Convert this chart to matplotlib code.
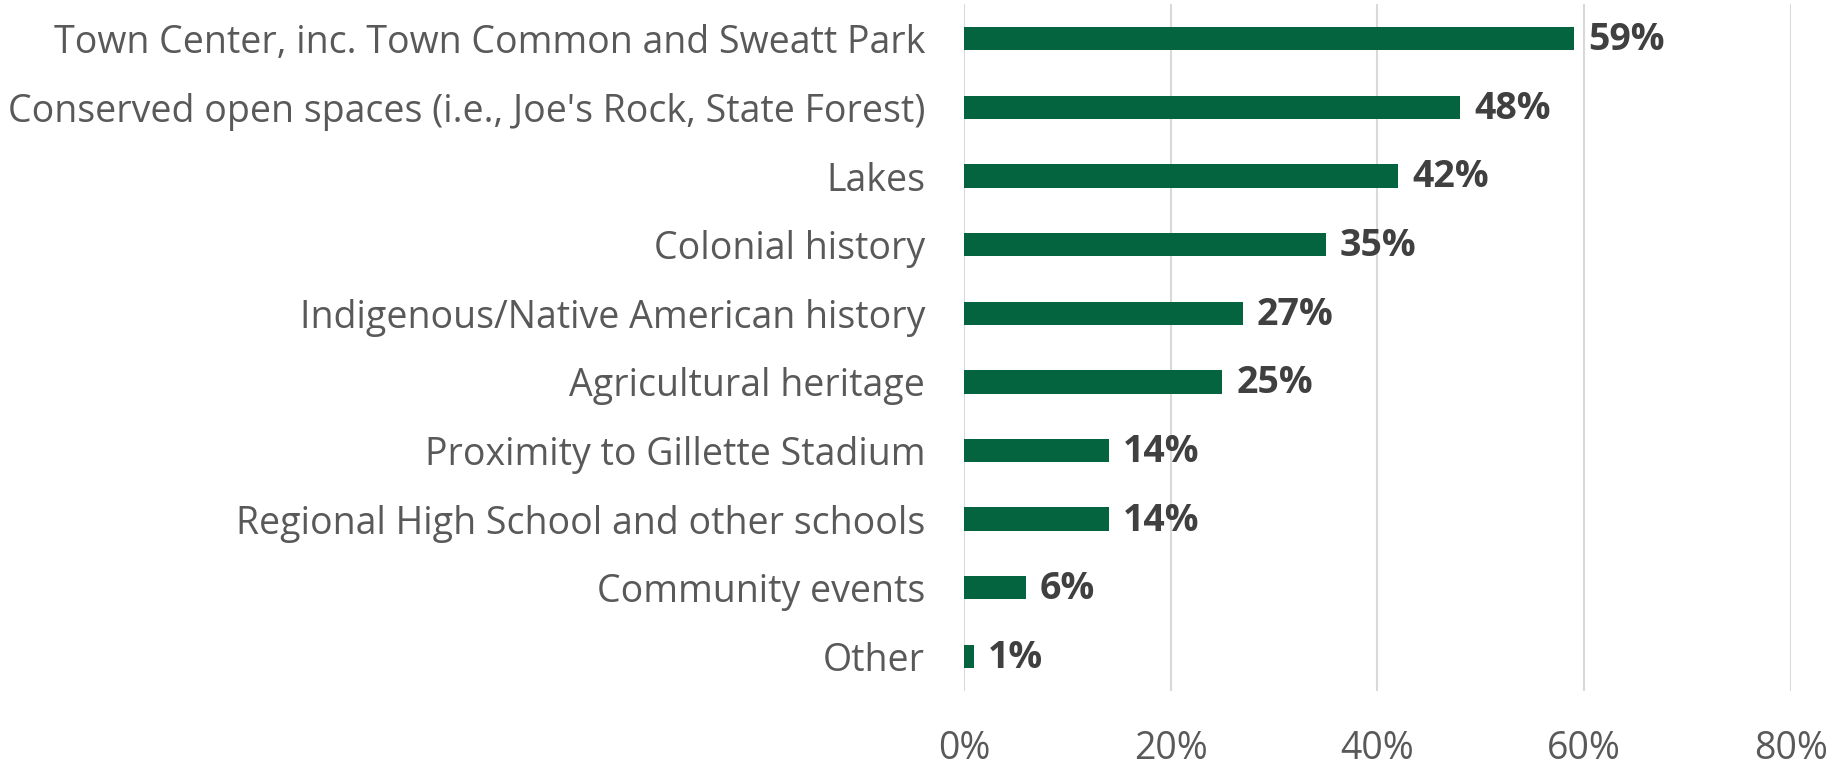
import matplotlib.pyplot as plt
from matplotlib.ticker import PercentFormatter

categories = [
    "Town Center, inc. Town Common and Sweatt Park",
    "Conserved open spaces (i.e., Joe's Rock, State Forest)",
    "Lakes",
    "Colonial history",
    "Indigenous/Native American history",
    "Agricultural heritage",
    "Proximity to Gillette Stadium",
    "Regional High School and other schools",
    "Community events",
    "Other",
]
shares = [0.59, 0.48, 0.42, 0.35, 0.27, 0.25, 0.14, 0.14, 0.06, 0.01]
x_ticks = [0.0, 0.2, 0.4, 0.6, 0.8]

bar_color = "#04643F"
label_color = "#595959"
value_color = "#404040"

plt.rcParams['font.family'] = ['Open Sans', 'DejaVu Sans']

fig = plt.figure(figsize=(18.38, 7.64), dpi=100)
ax = fig.add_axes([0.5245, 0.0959, 0.4499, 0.8983])

y = list(range(len(categories)))
ax.barh(y, shares, height=0.34, color=bar_color, zorder=3)
ax.set_ylim(len(categories) - 0.5, -0.5)
ax.set_xlim(0, 0.8)
ax.set_yticks(y)
ax.set_yticklabels(categories, fontsize=27, color=label_color)
ax.set_xticks(x_ticks)
ax.xaxis.set_major_formatter(PercentFormatter(1.0, decimals=0))
ax.tick_params(axis='x', labelsize=27, labelcolor=label_color, length=0, pad=28)
ax.tick_params(axis='y', length=0, pad=28)
ax.grid(axis='x', color='#D9D9D9', linewidth=1.5, zorder=0)
for s in ax.spines.values():
    s.set_visible(False)

for yi, v in zip(y, shares):
    ax.annotate(f"{v * 100:.0f}%", (v, yi), xytext=(10, -1), textcoords='offset points',
                va='center', ha='left', fontsize=27, fontweight='bold',
                color=value_color)

fig.savefig("out.png", dpi=100)
